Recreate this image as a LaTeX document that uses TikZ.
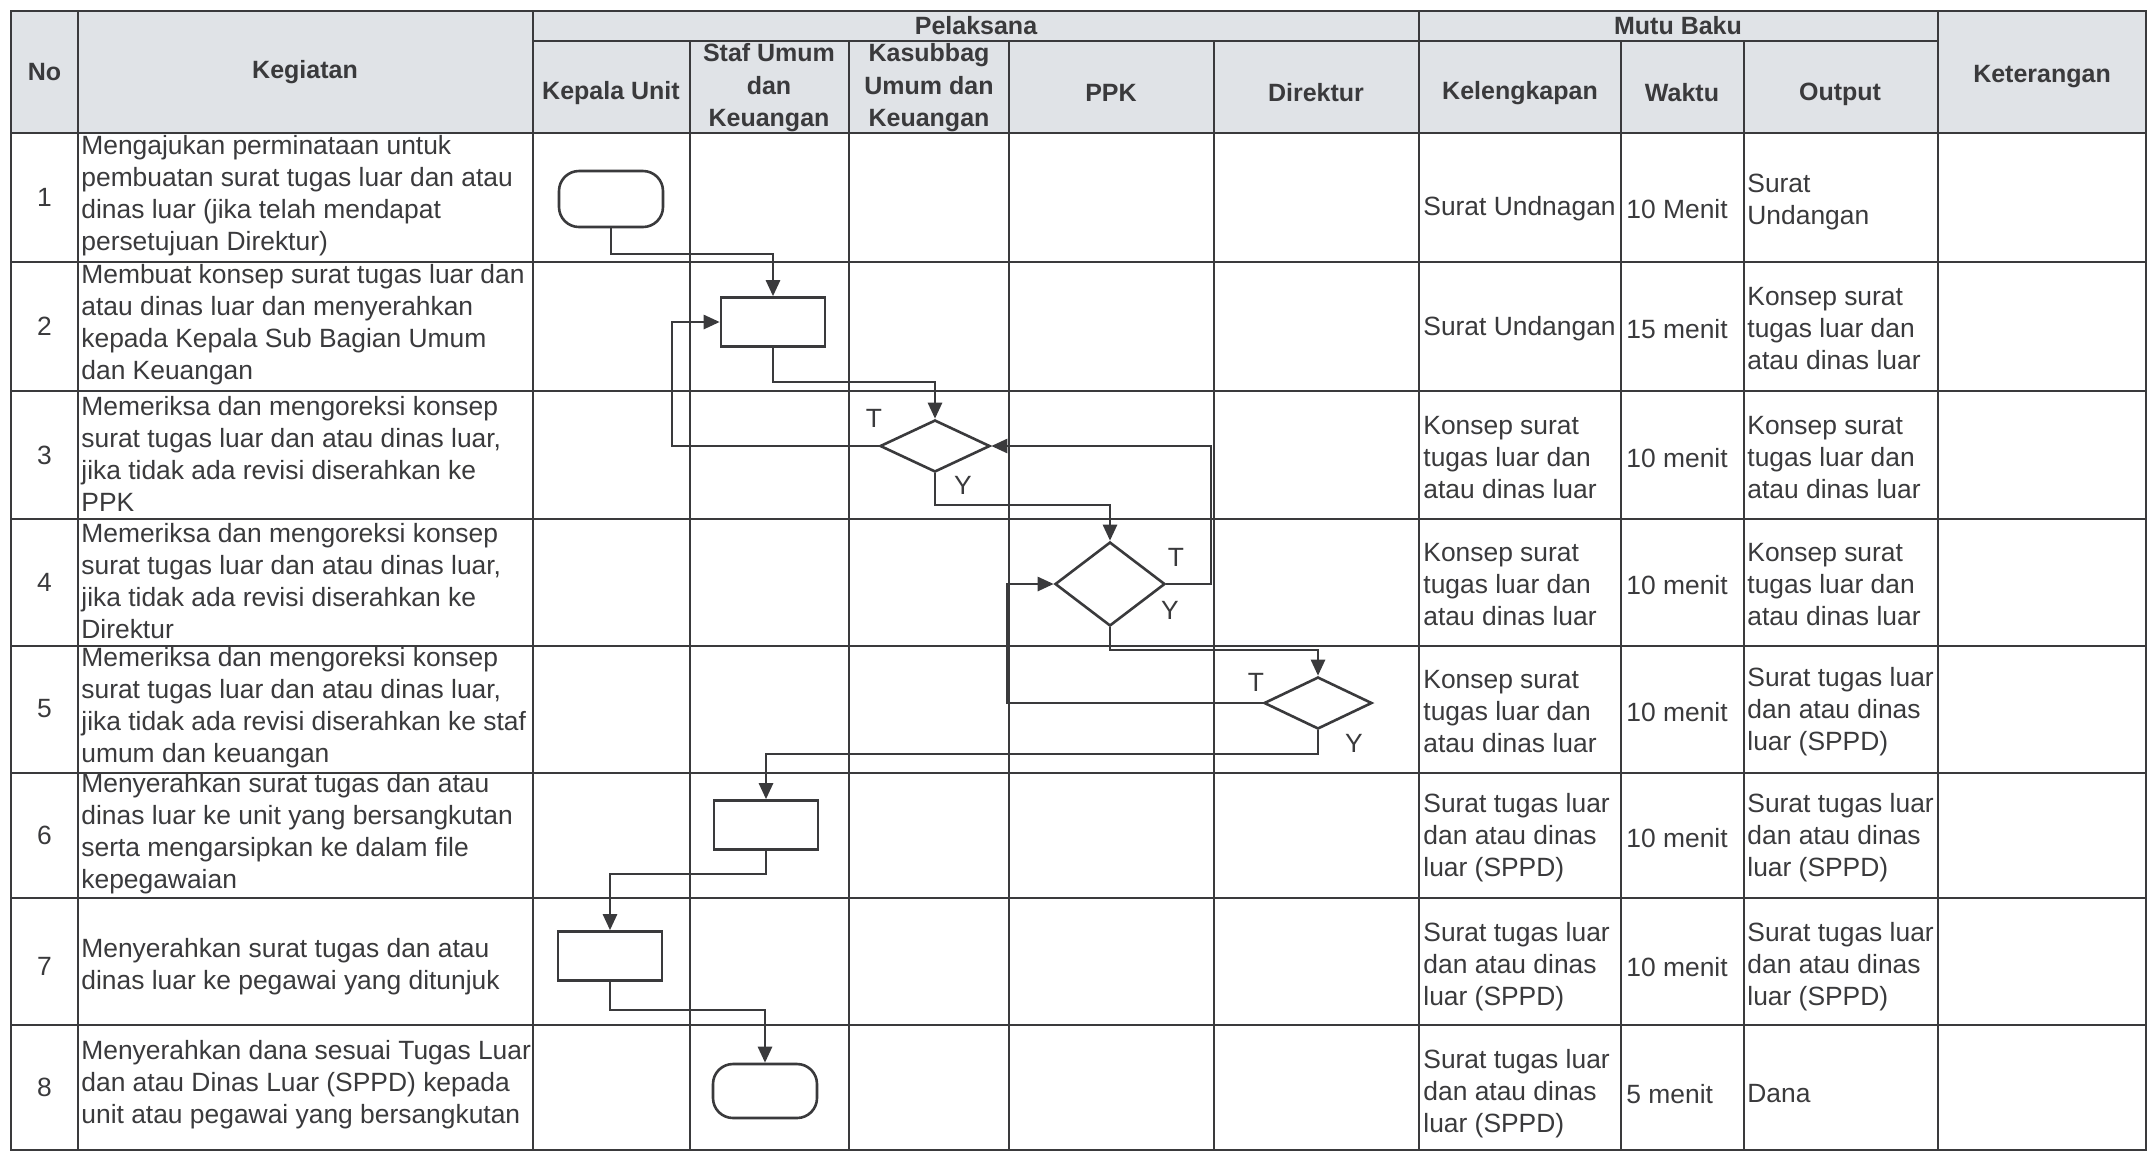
\documentclass[tikz,border=0pt]{standalone}
\usepackage{fontspec}
\setmainfont{Liberation Sans}
\usetikzlibrary{shapes.geometric,arrows.meta}
\definecolor{hdrfill}{RGB}{224,227,231}
\definecolor{ink}{RGB}{58,58,60}
\begin{document}
\begin{tikzpicture}[x=0.5pt,y=-0.5pt,
 tline/.style={draw=ink,line width=1.4pt},
 hd/.style={font=\bfseries\fontsize{12.5}{16.25}\selectfont,text=ink,align=center,inner sep=0pt},
 body/.style={font=\fontsize{13.2}{16}\selectfont,text=ink,align=left,inner sep=0pt,anchor=west},
 num/.style={font=\fontsize{13.2}{16}\selectfont,text=ink,inner sep=0pt},
 procbox/.style={draw=ink,line width=1.3pt,rectangle,minimum width=52pt,minimum height=24.5pt,inner sep=0pt},
 termbox/.style={draw=ink,line width=1.3pt,rectangle,rounded corners=10pt,minimum width=52pt,minimum height=28pt,inner sep=0pt},
 decbox/.style={draw=ink,line width=1.3pt,diamond,inner sep=0pt},
 flow/.style={draw=ink,line width=1.3pt,-{Triangle[length=8pt,width=7pt]}},
 lbl/.style={font=\fontsize{13.2}{16}\selectfont,text=ink,inner sep=0pt}
]
% page
\path[fill=white,use as bounding box] (0,0) rectangle (2154,1153);
% header fill
\fill[hdrfill] (11,11) rectangle (2146,133);
% outer frame and horizontal lines
\draw[tline] (11,11) rectangle (2146,1150);
\draw[tline] (533,41) -- (1938,41);
\foreach \yy in {133,262,391,519,646,773,898,1025} \draw[tline] (11,\yy) -- (2146,\yy);
% vertical lines
\foreach \xx in {78,533,1419,1938} \draw[tline] (\xx,11) -- (\xx,1150);
\foreach \xx in {690,849,1009,1214,1621,1744} \draw[tline] (\xx,41) -- (\xx,1150);

% header texts
\node[hd] (hNo) at (44.5,72) {No};
\node[hd] (hKeg) at (305,72) {Kegiatan};
\node[hd] (hPel) at (976,26) {Pelaksana};
\node[hd] (hKU) at (611,93) {Kepala Unit};
\node[hd] (hStaf) at (769,88) {Staf Umum\\dan\\Keuangan};
\node[hd] (hKas) at (929,88) {Kasubbag\\Umum dan\\Keuangan};
\node[hd] (hPPK) at (1111,93) {PPK};
\node[hd] (hDir) at (1316,93) {Direktur};
\node[hd] (hMutu) at (1678,26) {Mutu Baku};
\node[hd] (hKel) at (1520,93) {Kelengkapan};
\node[hd] (hWak) at (1682,93) {Waktu};
\node[hd] (hOut) at (1840,94) {Output};
\node[hd] (hKet) at (2042,77) {Keterangan};

% numbers
\node[num] (n1) at (44.5,197) {1};
\node[num] (n2) at (44.5,326) {2};
\node[num] (n3) at (44.5,455) {3};
\node[num] (n4) at (44.5,582) {4};
\node[num] (n5) at (44.5,709) {5};
\node[num] (n6) at (44.5,835) {6};
\node[num] (n7) at (44.5,966) {7};
\node[num] (n8) at (44.5,1087) {8};

% kegiatan
\node[body] (k1) at (81,196) {Mengajukan perminataan untuk\\pembuatan surat tugas luar dan atau\\dinas luar (jika telah mendapat\\persetujuan Direktur)};
\node[body] (k2) at (81,325) {Membuat konsep surat tugas luar dan\\atau dinas luar dan menyerahkan\\kepada Kepala Sub Bagian Umum\\dan Keuangan};
\node[body] (k3) at (81,454) {Memeriksa dan mengoreksi konsep\\surat tugas luar dan atau dinas luar,\\jika tidak ada revisi diserahkan ke\\PPK};
\node[body] (k4) at (81,581) {Memeriksa dan mengoreksi konsep\\surat tugas luar dan atau dinas luar,\\jika tidak ada revisi diserahkan ke\\Direktur};
\node[body] (k5) at (81,708) {Memeriksa dan mengoreksi konsep\\surat tugas luar dan atau dinas luar,\\jika tidak ada revisi diserahkan ke staf\\umum dan keuangan};
\node[body] (k6) at (81,834) {Menyerahkan surat tugas dan atau\\dinas luar ke unit yang bersangkutan\\serta mengarsipkan ke dalam file\\kepegawaian};
\node[body] (k7) at (81,967) {Menyerahkan surat tugas dan atau\\dinas luar ke pegawai yang ditunjuk};
\node[body] (k8) at (81,1085) {Menyerahkan dana sesuai Tugas Luar\\dan atau Dinas Luar (SPPD) kepada\\unit atau pegawai yang bersangkutan};

% kelengkapan
\node[body] (l1) at (1423,209) {Surat Undnagan};
\node[body] (l2) at (1423,329) {Surat Undangan};
\node[body] (l3) at (1423,458) {Konsep surat\\tugas luar dan\\atau dinas luar};
\node[body] (l4) at (1423,585) {Konsep surat\\tugas luar dan\\atau dinas luar};
\node[body] (l5) at (1423,712) {Konsep surat\\tugas luar dan\\atau dinas luar};
\node[body] (l6) at (1423,838) {Surat tugas luar\\dan atau dinas\\luar (SPPD)};
\node[body] (l7) at (1423,967) {Surat tugas luar\\dan atau dinas\\luar (SPPD)};
\node[body] (l8) at (1423,1094) {Surat tugas luar\\dan atau dinas\\luar (SPPD)};

% waktu
\node[body] (w1) at (1626,209) {10 Menit};
\node[body] (w2) at (1626,329) {15 menit};
\node[body] (w3) at (1626,458) {10 menit};
\node[body] (w4) at (1626,585) {10 menit};
\node[body] (w5) at (1626,712) {10 menit};
\node[body] (w6) at (1626,838) {10 menit};
\node[body] (w7) at (1626,967) {10 menit};
\node[body] (w8) at (1626,1094) {5 menit};

% output
\node[body] (o1) at (1747,202) {Surat\\Undangan};
\node[body] (o2) at (1747,329) {Konsep surat\\tugas luar dan\\atau dinas luar};
\node[body] (o3) at (1747,458) {Konsep surat\\tugas luar dan\\atau dinas luar};
\node[body] (o4) at (1747,585) {Konsep surat\\tugas luar dan\\atau dinas luar};
\node[body] (o5) at (1747,712) {Surat tugas luar\\dan atau dinas\\luar (SPPD)};
\node[body] (o6) at (1747,838) {Surat tugas luar\\dan atau dinas\\luar (SPPD)};
\node[body] (o7) at (1747,967) {Surat tugas luar\\dan atau dinas\\luar (SPPD)};
\node[body] (o8) at (1747,1094) {Dana};

% flowchart shapes
\node[termbox,fill=white] (s1) at (611,199) {};
\node[procbox,fill=white] (b2) at (773,322) {};
\node[decbox,fill=white,minimum width=55pt,minimum height=26pt] (d3) at (935,446) {};
\node[decbox,fill=white,minimum width=55pt,minimum height=42pt] (d4) at (1110,584) {};
\node[decbox,fill=white,minimum width=54pt,minimum height=26pt] (d5) at (1318,703) {};
\node[procbox,fill=white] (b6) at (766,825) {};
\node[procbox,fill=white] (b7) at (610,956) {};
\node[termbox,fill=white,minimum height=27pt] (e8) at (765,1091) {};

% labels
\node[lbl] (t3) at (874,418) {T};
\node[lbl] (y3) at (963,485) {Y};
\node[lbl] (t4) at (1176,557) {T};
\node[lbl] (y4) at (1170,610) {Y};
\node[lbl] (t5) at (1256,682) {T};
\node[lbl] (y5) at (1354,743) {Y};

% bend coordinates
\coordinate (c1) at (700,254);
\coordinate (c2) at (850,382);
\coordinate (c3) at (672,380);
\coordinate (c4) at (1020,505);
\coordinate (c5) at (1211,500);
\coordinate (c6) at (1200,650);
\coordinate (c7) at (1007,650);
\coordinate (c8) at (1000,754);
\coordinate (c9) at (690,874);
\coordinate (c10) at (690,1010);

% connectors
\draw[flow] (s1.south) |- (c1) -| (b2.north);
\draw[flow] (b2.south) |- (c2) -| (d3.north);
\draw[flow] (d3.west) -| (c3) |- (b2.west);
\draw[flow] (d3.south) |- (c4) -| (d4.north);
\draw[flow] (d4.east) -| (c5) |- (d3.east);
\draw[flow] (d4.south) |- (c6) -| (d5.north);
\draw[flow] (d5.west) -| (c7) |- (d4.west);
\draw[flow] (d5.south) |- (c8) -| (b6.north);
\draw[flow] (b6.south) |- (c9) -| (b7.north);
\draw[flow] (b7.south) |- (c10) -| (e8.north);
\end{tikzpicture}
\end{document}
